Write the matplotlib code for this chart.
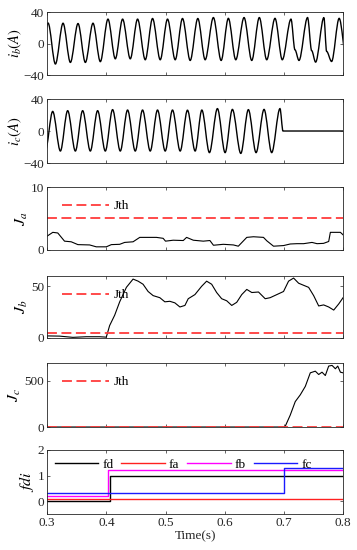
import matplotlib
matplotlib.use("Agg")
import matplotlib.pyplot as plt
from matplotlib.path import Path
from matplotlib.patches import PathPatch

plt.rcParams['font.family'] = ['Liberation Serif', 'DejaVu Serif']
plt.rcParams['mathtext.fontset'] = 'stix'
plt.rcParams['font.size'] = 9

# phase currents: extrema (time, value)
ib_t = [0.289, 0.3016, 0.314, 0.3269, 0.3393, 0.3522, 0.3646, 0.3775, 0.3899, 0.4028,
        0.4152, 0.4275, 0.4405, 0.4528, 0.4658, 0.4781, 0.4911, 0.5034, 0.5164, 0.5287,
        0.5417, 0.5546, 0.567, 0.5809, 0.594, 0.6062, 0.6187, 0.6327, 0.6457, 0.6585,
        0.671, 0.685, 0.6973, 0.712, 0.7187, 0.7255, 0.740, 0.7469, 0.7536, 0.7676,
        0.7722, 0.7806, 0.7934, 0.806]
ib_v = [-26, 26, -26, 25.8, -24, 25.4, -24, 25.8, -23, 31,
        -19.4, 31, -19.4, 31, -20.6, 31.8, -20.6, 31, -20.6, 31.8,
        -21.5, 31.8, -20.6, 33, -21.5, 32, -20.6, 33, -21.5, 33,
        -20.6, 32, -20.6, 31, -8, -21.5, 33, -9, -23.6, 33,
        -10, -22.8, 32, -21]

ic_t = [0.2969, 0.3094, 0.3224, 0.3347, 0.3477, 0.36, 0.373, 0.3853, 0.3983, 0.4106,
        0.4236, 0.4359, 0.4489, 0.4612, 0.4742, 0.4865, 0.4995, 0.5118, 0.5248, 0.5371,
        0.5501, 0.5614, 0.5742, 0.5877, 0.6007, 0.613, 0.6272, 0.64, 0.653, 0.6665,
        0.6794, 0.6934, 0.6985, 0.8]
ic_v = [-25, 24.5, -25, 25.4, -25, 25.4, -25, 25.4, -25, 26.7,
        -25, 26.2, -25, 26.2, -25, 26.2, -25, 26.2, -25, 26,
        -25, 26.2, -27, 28, -27, 27, -28, 26.7, -27, 27,
        -27, 28, 0, 0]

# residual indices
j_th = 5
ja_t = [0.300, 0.3096, 0.318, 0.3294, 0.3407, 0.352, 0.3718, 0.383, 0.400, 0.4085,
        0.4226, 0.431, 0.4452, 0.4565, 0.4847, 0.496, 0.500, 0.513, 0.530, 0.5356,
        0.547, 0.5638, 0.575, 0.581, 0.5977, 0.6147, 0.623, 0.6373, 0.6486, 0.6655,
        0.6712, 0.6825, 0.6994, 0.7107, 0.722, 0.7333, 0.7475, 0.756, 0.767, 0.7757,
        0.7785, 0.7955, 0.800]
ja_v = [2.2, 2.8, 2.7, 1.4, 1.3, 0.85, 0.8, 0.5, 0.5, 0.85,
        0.9, 1.2, 1.3, 2.0, 2.0, 1.85, 1.4, 1.55, 1.5, 2.0,
        1.55, 1.4, 1.5, 0.75, 0.9, 0.8, 0.6, 2.0, 2.1, 2.0,
        1.45, 0.6, 0.7, 0.95, 1.0, 1.0, 1.2, 1.0, 1.05, 1.35,
        2.8, 2.8, 2.4]

jb_t = [0.300, 0.3209, 0.3435, 0.3661, 0.3887, 0.400, 0.4056, 0.4141, 0.4226, 0.4339,
        0.4452, 0.4537, 0.4621, 0.4706, 0.4791, 0.4904, 0.4989, 0.5073, 0.5158, 0.5243,
        0.5328, 0.5384, 0.5497, 0.561, 0.5695, 0.578, 0.5864, 0.5949, 0.6034, 0.6119,
        0.6203, 0.6288, 0.6373, 0.6458, 0.6571, 0.6684, 0.6768, 0.6881, 0.6994, 0.7079,
        0.7164, 0.7249, 0.7333, 0.7418, 0.7503, 0.7588, 0.7672, 0.7757, 0.7842, 0.7927,
        0.800]
jb_v = [2.0, 1.8, 0.6, 1.2, 1.2, 0.8, 12, 22, 35, 49,
        57, 55, 52, 45, 41, 39, 35, 35.5, 34, 30,
        31.5, 38, 42, 50, 55, 52, 44, 38, 36, 31.5,
        34.5, 42, 47, 44, 44.5, 38, 39, 42, 45, 55,
        58, 53, 51, 49, 41, 31, 32, 30, 27, 33,
        39]

jc_t = [0.300, 0.7006, 0.7023, 0.7107, 0.7192, 0.7277, 0.7362, 0.7446, 0.7531, 0.7588,
        0.7644, 0.770, 0.7757, 0.7814, 0.787, 0.791, 0.7955, 0.800]
jc_v = [0, 0, 8, 128, 274, 347, 438, 584, 602, 566,
        591, 555, 657, 664, 628, 657, 591, 584]

# fault flags (step changes)
fd_t, fd_v = [0.3, 0.4057, 0.8], [0, 1, 1]
fa_t, fa_v = [0.3, 0.8], [0.1, 0.1]
fb_t, fb_v = [0.3, 0.403, 0.8], [0.2, 1.2, 1.2]
fc_t, fc_v = [0.3, 0.701, 0.8], [0.3, 1.3, 1.3]

x_ticks = [0.3, 0.4, 0.5, 0.6, 0.7, 0.8]
red = '#ff3c3c'
axc = '#262626'


def wave(ax, t, v, **kw):
    # smooth curve through the extrema, drawn as cubic Bezier segments
    verts = [(t[0], v[0])]
    codes = [Path.MOVETO]
    for i in range(1, len(t)):
        dt = t[i] - t[i - 1]
        verts += [(t[i - 1] + dt / 3, v[i - 1]), (t[i] - dt / 3, v[i]), (t[i], v[i])]
        codes += [Path.CURVE4] * 3
    ax.add_patch(PathPatch(Path(verts, codes), fill=False, **kw))


fig = plt.figure(figsize=(3.57, 5.5), dpi=100)
left, width = 0.132, 0.829
rows = [(0.8636, 0.1145), (0.7036, 0.1164), (0.5455, 0.1145),
        (0.3855, 0.1127), (0.2236, 0.1164), (0.0655, 0.1164)]
axes = [fig.add_axes([left, b, width, h]) for b, h in rows]

for ax in axes:
    ax.set_xlim(0.3, 0.8)
    ax.set_xticks(x_ticks)
    ax.tick_params(direction='in', length=2.5, width=0.5, top=True, right=True,
                   labelsize=9.5, colors=axc, pad=2)
    for s in ax.spines.values():
        s.set_linewidth(0.6)
        s.set_color(axc)
    if ax is not axes[-1]:
        ax.set_xticklabels([])

ax = axes[0]
wave(ax, ib_t, ib_v, edgecolor='black', lw=1.0)
ax.set_ylim(-40, 40)
ax.set_yticks([-40, 0, 40])
ax.set_ylabel(r'$i_b(A)$', fontsize=10.5, labelpad=0)

ax = axes[1]
wave(ax, ic_t, ic_v, edgecolor='black', lw=1.0)
ax.set_ylim(-40, 40)
ax.set_yticks([-40, 0, 40])
ax.set_ylabel(r'$i_c(A)$', fontsize=10.5, labelpad=0)

dash = (0, (5.5, 2.5))
for ax, t, v, ylim, yt, lab in [(axes[2], ja_t, ja_v, (0, 10), [0, 10], r'$J_a$'),
                                 (axes[3], jb_t, jb_v, (0, 60), [0, 50], r'$J_b$'),
                                 (axes[4], jc_t, jc_v, (0, 690), [0, 500], r'$J_c$')]:
    ax.plot(t, v, color='black', lw=0.8)
    ax.plot([0.3, 0.8], [j_th, j_th], color=red, lw=1.3, ls=dash, label='Jth')
    ax.set_ylim(*ylim)
    ax.set_yticks(yt)
    ax.set_ylabel(lab, fontsize=11.5, labelpad=1)
    ax.legend(loc='upper left', bbox_to_anchor=(0.01, 0.98), frameon=False,
              handlelength=3.6, handletextpad=0.3, fontsize=9.5)

ax = axes[5]
ax.plot(fd_t, fd_v, drawstyle='steps-post', color='black', lw=1.0, label='fd')
ax.plot(fa_t, fa_v, drawstyle='steps-post', color='#ff2020', lw=1.0, label='fa')
ax.plot(fb_t, fb_v, drawstyle='steps-post', color='#ff00ff', lw=1.0, label='fb')
ax.plot(fc_t, fc_v, drawstyle='steps-post', color='#1a1aff', lw=1.0, label='fc')
ax.set_ylim(-0.5, 2)
ax.set_yticks([0, 1, 2])
ax.set_ylabel(r'$fdi$', fontsize=11.5, labelpad=1)
ax.legend(loc='upper left', bbox_to_anchor=(-0.015, 1.05), ncol=4, frameon=False,
          handlelength=3.3, handletextpad=0.3, columnspacing=0.6, fontsize=9.5)
ax.set_xlabel('Time(s)', fontsize=9.5, labelpad=1, color=axc)

fig.savefig('out.png', dpi=100)
